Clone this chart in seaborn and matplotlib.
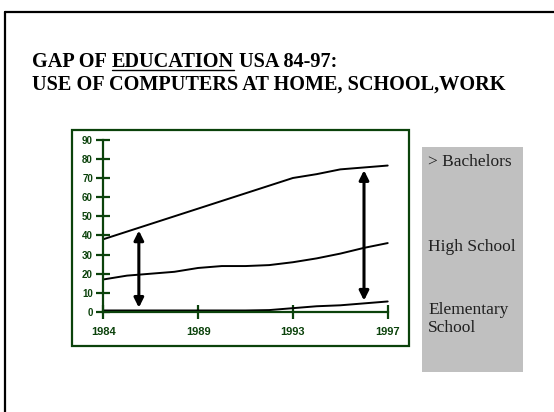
import numpy as np
import pandas as pd
import matplotlib
matplotlib.use("Agg")
import matplotlib.pyplot as plt
import seaborn as sns
from matplotlib.lines import Line2D
from matplotlib.patches import Rectangle

# ---- data ----
point_index = list(range(13))
tick_index = [0, 4, 8, 12]
year_labels = ["1984", "1989", "1993", "1997"]
bachelors = [38, 42, 46, 50, 54, 58, 62, 66, 70, 72, 74.5, 75.5, 76.5]
high_school = [17, 19, 20, 21, 23, 24, 24, 24.5, 26, 28, 30.5, 33.5, 36]
elementary = [0.8, 0.8, 0.8, 0.8, 0.8, 0.8, 0.8, 1, 2, 3, 3.5, 4.5, 5.5]
series_names = ["> Bachelors", "High School", "Elementary School"]
y_ticks = [0, 10, 20, 30, 40, 50, 60, 70, 80, 90]
arrow_points = [1.5, 11.0]

title_parts = ["GAP OF", "EDUCATION", "USA 84-97:"]
title_line2 = "USE OF COMPUTERS AT HOME, SCHOOL,WORK"

GREEN = "#0b420b"
W, H = 554, 412

sns.set_style("white")
plt.rcParams["font.family"] = ["Liberation Sans", "DejaVu Sans"]

fig = plt.figure(figsize=(W / 100, H / 100), dpi=100)

# outer slide frame (left + top edges)
fig.add_artist(Line2D([5 / W, 5 / W], [0, 1 - 11.6 / H], transform=fig.transFigure,
                      color="black", lw=1.6))
fig.add_artist(Line2D([5 / W, 1], [1 - 11.6 / H, 1 - 11.6 / H], transform=fig.transFigure,
                      color="black", lw=1.6))

# chart box
fig.add_artist(Rectangle((72 / W, 1 - 346 / H), 337 / W, 216 / H, transform=fig.transFigure,
                         facecolor="white", edgecolor=GREEN, lw=1.6, zorder=0))
# gray legend panel
fig.add_artist(Rectangle((421.7 / W, 1 - 371.7 / H), 101 / W, 225 / H, transform=fig.transFigure,
                         facecolor="#c0c0c0", edgecolor="none", zorder=0))

ax = fig.add_axes([103.3 / W, 1 - 312 / H, 284.4 / W, 172.3 / H])
ax.set_facecolor("none")

df = pd.DataFrame({
    "x": point_index * 3,
    "value": bachelors + high_school + elementary,
    "series": [series_names[0]] * 13 + [series_names[1]] * 13 + [series_names[2]] * 13,
})
sns.lineplot(data=df, x="x", y="value", hue="series",
             palette={n: "black" for n in series_names}, legend=False, ax=ax,
             linewidth=1.4, clip_on=False)

for xp in arrow_points:
    top = np.interp(xp, point_index, bachelors)
    bot = np.interp(xp, point_index, elementary)
    ax.annotate("", xy=(xp, top), xytext=(xp, bot),
                arrowprops=dict(arrowstyle="<|-|>", lw=2.2, color="black",
                                mutation_scale=14, shrinkA=2, shrinkB=2))

ax.set_xlim(0, 12)
ax.set_ylim(0, 90)
ax.set_xlabel("")
ax.set_ylabel("")
ax.set_xticks(tick_index, year_labels)
ax.set_yticks(y_ticks)
for s in ["top", "right"]:
    ax.spines[s].set_visible(False)
for s in ["left", "bottom"]:
    ax.spines[s].set_color(GREEN)
    ax.spines[s].set_linewidth(1.6)
ax.tick_params(axis="both", direction="inout", length=10, width=1.6, color=GREEN,
               labelcolor=GREEN, bottom=True, left=True)
ax.tick_params(axis="x", pad=6, labelsize=8)
ax.tick_params(axis="y", pad=2.5, labelsize=7)
for lbl in ax.get_xticklabels() + ax.get_yticklabels():
    lbl.set_fontweight("bold")

# titles
tfont = dict(family=["Liberation Serif", "DejaVu Serif"], fontweight="bold", fontsize=14.6,
             color="black", va="baseline")
y1 = 1 - 67 / H
y2 = 1 - 90 / H
x0 = 32.5 / W
t1 = fig.text(x0, y1, title_parts[0], **tfont)
fig.text(x0, y2, title_line2, **tfont)
fig.canvas.draw()
r = fig.canvas.get_renderer()
space = 4.8
b1 = t1.get_window_extent(r)
t2 = fig.text((b1.x1 + space) / W, y1, title_parts[1], **tfont)
fig.canvas.draw()
b2 = t2.get_window_extent(r)
fig.text((b2.x1 + space) / W, y1, title_parts[2], **tfont)
uy = y1 - 2.8 / H
fig.add_artist(Line2D([b2.x0 / W, b2.x1 / W], [uy, uy], transform=fig.transFigure,
                      color="black", lw=1.0))

# legend panel text
lfont = dict(family=["Liberation Serif", "DejaVu Serif"], fontsize=12.5, color="#202020",
             va="baseline")
lx = 428.3 / W
fig.text(lx, 1 - 166 / H, "> Bachelors", **lfont)
fig.text(lx, 1 - 250.7 / H, "High School", **lfont)
fig.text(lx, 1 - 314 / H, "Elementary", **lfont)
fig.text(lx, 1 - 331.7 / H, "School", **lfont)

fig.savefig("out.png", dpi=100)
